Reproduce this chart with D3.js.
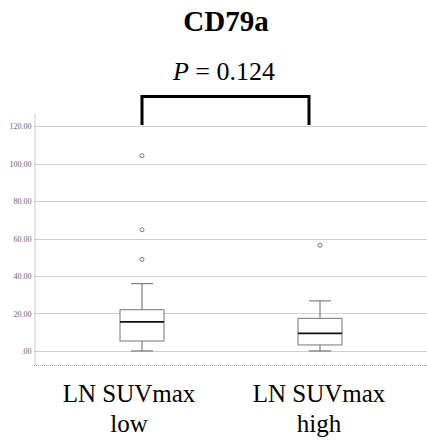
<!DOCTYPE html>
<html>
<head>
<meta charset="utf-8">
<script src="https://cdn.jsdelivr.net/npm/d3@7"></script>
<style>
  body { margin: 0; background: #fff; }
  svg { display: block; }
</style>
</head>
<body>
<div id="chart"></div>
<script>
// data
var groups = ["low", "high"];
var groupLabels = [["LN SUVmax", "low"], ["LN SUVmax", "high"]];
var mins = [0, 0];
var q1s = [5.3, 3.2];
var medians = [15.5, 9.4];
var q3s = [22.0, 17.4];
var maxs = [35.9, 26.7];
var outliers = [[48.9, 64.7, 104.2], [56.4]];
var yTicks = [0, 20, 40, 60, 80, 100, 120];
var title = "CD79a";
var pValue = "0.124";

var svgWidth = 427;
var svgHeight = 440;

var svg = d3.select("#chart")
  .append("svg")
  .attr("width", svgWidth)
  .attr("height", svgHeight);

var plotLeft = 34, plotRight = 427, plotTop = 113, plotBottom = 365;

var y = d3.scaleLinear()
  .domain([-7.5, 127])
  .range([plotBottom, plotTop]);

var x = d3.scalePoint()
  .domain(groups)
  .range([142, 320]);

// grid lines
svg.append("g")
  .selectAll("line")
  .data(yTicks)
  .enter()
  .append("line")
  .attr("x1", plotLeft)
  .attr("x2", plotRight)
  .attr("y1", d => Math.round(y(d)) + 0.5)
  .attr("y2", d => Math.round(y(d)) + 0.5)
  .attr("stroke", "#cfcfcf")
  .attr("stroke-width", 1);

// y axis
var yAxis = d3.axisLeft(y)
  .tickValues(yTicks)
  .tickSize(0)
  .tickPadding(3)
  .tickFormat(d => d === 0 ? ".00" : d3.format(".2f")(d));

var yg = svg.append("g")
  .attr("transform", `translate(${plotLeft + 0.5}, 0)`)
  .call(yAxis);
yg.select(".domain")
  .attr("stroke", "#999")
  .attr("stroke-dasharray", "1,1");
yg.selectAll("text")
  .attr("font-family", "Liberation Serif, serif")
  .attr("font-size", "8px")
  .attr("fill", "#666");

// bottom line
svg.append("line")
  .attr("x1", plotLeft)
  .attr("x2", plotRight)
  .attr("y1", plotBottom + 0.5)
  .attr("y2", plotBottom + 0.5)
  .attr("stroke", "#aaa")
  .attr("stroke-dasharray", "1,1");

// boxes
var boxW = 44, capW = 22;
var boxes = svg.append("g")
  .selectAll("g")
  .data(groups)
  .enter()
  .append("g");

boxes.append("line")
  .attr("x1", d => x(d))
  .attr("x2", d => x(d))
  .attr("y1", (d, i) => y(maxs[i]))
  .attr("y2", (d, i) => y(q3s[i]))
  .attr("stroke", "#666");

boxes.append("line")
  .attr("x1", d => x(d))
  .attr("x2", d => x(d))
  .attr("y1", (d, i) => y(q1s[i]))
  .attr("y2", (d, i) => y(mins[i]))
  .attr("stroke", "#666");

boxes.append("line")
  .attr("x1", d => x(d) - capW / 2)
  .attr("x2", d => x(d) + capW / 2)
  .attr("y1", (d, i) => y(maxs[i]))
  .attr("y2", (d, i) => y(maxs[i]))
  .attr("stroke", "#666");

boxes.append("line")
  .attr("x1", d => x(d) - capW / 2)
  .attr("x2", d => x(d) + capW / 2)
  .attr("y1", (d, i) => y(mins[i]))
  .attr("y2", (d, i) => y(mins[i]))
  .attr("stroke", "#666");

boxes.append("rect")
  .attr("x", d => x(d) - boxW / 2)
  .attr("width", boxW)
  .attr("y", (d, i) => y(q3s[i]))
  .attr("height", (d, i) => y(q1s[i]) - y(q3s[i]))
  .attr("fill", "white")
  .attr("stroke", "#777")
  .attr("stroke-width", 1);

boxes.append("line")
  .attr("x1", d => x(d) - boxW / 2)
  .attr("x2", d => x(d) + boxW / 2)
  .attr("y1", (d, i) => y(medians[i]))
  .attr("y2", (d, i) => y(medians[i]))
  .attr("stroke", "#111")
  .attr("stroke-width", 1.6);

// outliers
boxes.each(function (d, i) {
  d3.select(this).selectAll("circle")
    .data(outliers[i])
    .enter()
    .append("circle")
    .attr("cx", x(d))
    .attr("cy", v => y(v))
    .attr("r", 2)
    .attr("fill", "none")
    .attr("stroke", "#777")
    .attr("stroke-width", 1);
});

// significance bracket
var bx1 = x("low"), bx2 = x("high") - 11;
svg.append("path")
  .attr("d", `M${bx1},125 V96.5 H${bx2} V125`)
  .attr("fill", "none")
  .attr("stroke", "black")
  .attr("stroke-width", 3);

// title and p value
svg.append("text")
  .attr("x", 226)
  .attr("y", 31)
  .attr("text-anchor", "middle")
  .attr("font-family", "Liberation Serif, serif")
  .attr("font-weight", "bold")
  .attr("font-size", "29px")
  .text(title);

var pText = svg.append("text")
  .attr("x", 224)
  .attr("y", 80)
  .attr("text-anchor", "middle")
  .attr("font-family", "Liberation Serif, serif")
  .attr("font-size", "26px");
pText.append("tspan").attr("font-style", "italic").text("P");
pText.append("tspan").text(" = " + pValue);

// x labels
var labelShift = [-13, -1];
var xl = svg.append("g")
  .selectAll("text")
  .data(groups)
  .enter()
  .append("text")
  .attr("x", (d, i) => x(d) + labelShift[i])
  .attr("y", 402)
  .attr("text-anchor", "middle")
  .attr("font-family", "Liberation Serif, serif")
  .attr("font-size", "25px");
xl.append("tspan")
  .text((d, i) => groupLabels[i][0]);
xl.append("tspan")
  .attr("x", (d, i) => x(d) + labelShift[i])
  .attr("dy", 30)
  .text((d, i) => groupLabels[i][1]);
</script>
</body>
</html>
